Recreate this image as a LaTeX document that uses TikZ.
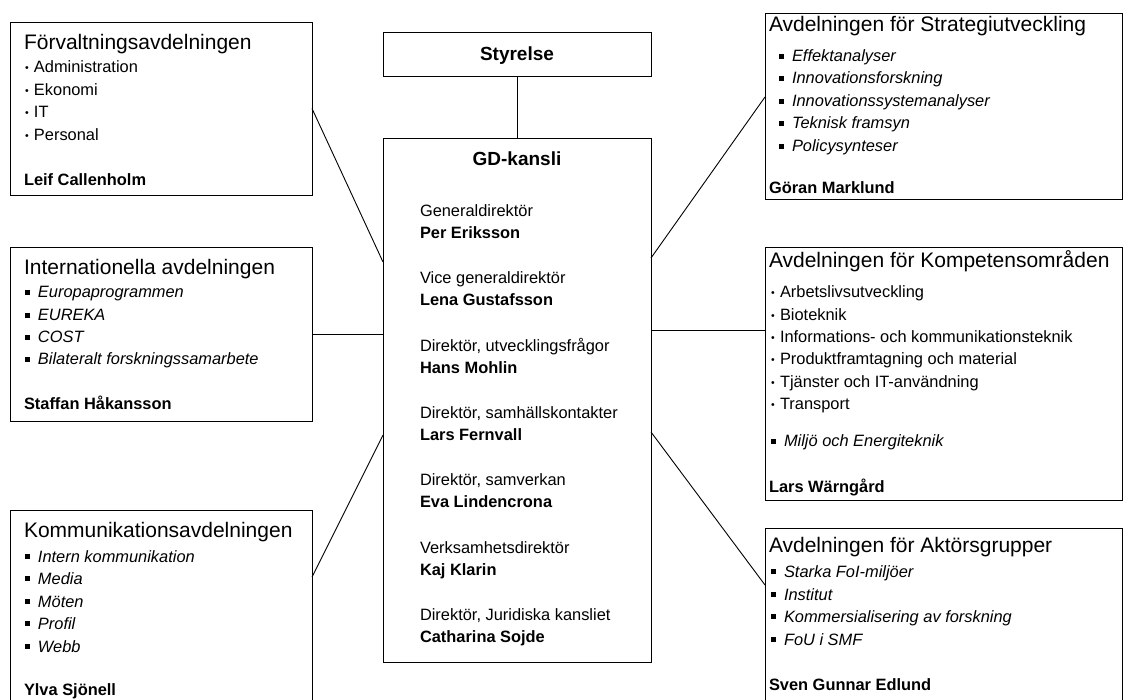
\documentclass[tikz,border=0pt]{standalone}
\usepackage{fontspec}
\setmainfont{Liberation Sans}
\newcommand{\dotb}{\makebox[9pt][l]{\raisebox{1.9pt}{\fontsize{10.5}{10}\selectfont •}}}
\newcommand{\sqb}{\makebox[13pt][l]{\rule[3pt]{4.8pt}{4.8pt}}}
\begin{document}
\begin{tikzpicture}[x=1pt,y=-1pt,
  box/.style={draw=black, line width=0.9pt, anchor=north west, inner sep=0pt, outer sep=0pt},
  txt/.style={anchor=base west, inner sep=0pt, outer sep=0pt, font=\fontsize{16.4}{18}\selectfont},
  itx/.style={txt, font=\fontsize{16.4}{18}\selectfont\itshape},
  ttl/.style={anchor=base west, inner sep=0pt, outer sep=0pt, font=\fontsize{21}{24}\selectfont},
  nm/.style={anchor=base west, inner sep=0pt, outer sep=0pt, font=\bfseries\fontsize{16.4}{18}\selectfont},
  hd/.style={anchor=base, inner sep=0pt, outer sep=0pt, font=\bfseries\fontsize{19}{22}\selectfont},
  conn/.style={draw=black, line width=0.9pt}]
\useasboundingbox (0,0) rectangle (1125,700);
\clip (0,0) rectangle (1125,700);

% boxes
\node[box, minimum width=302pt, minimum height=173pt] (forv) at (10,22) {};
\node[box, minimum width=302pt, minimum height=174pt] (intl) at (10,247) {};
\node[box, minimum width=302pt, minimum height=220pt] (komm) at (10,510) {};
\node[box, minimum width=268pt, minimum height=44pt] (styr) at (383,32) {};
\node[box, minimum width=268pt, minimum height=524pt] (gd) at (383,138) {};
\node[box, minimum width=357pt, minimum height=186pt] (strat) at (765,13) {};
\node[box, minimum width=357pt, minimum height=253pt] (komp) at (765,247) {};
\node[box, minimum width=357pt, minimum height=200pt] (akt) at (765,528) {};

% connector end points on borders
\coordinate (gdW1) at (383,262);
\coordinate (gdW2) at (383,334);
\coordinate (gdW3) at (383,435);
\coordinate (gdE1) at (651,258);
\coordinate (gdE2) at (651,330);
\coordinate (gdE3) at (651,432);
\coordinate (kommE) at (312,577);
\coordinate (stratW) at (765,97);
\coordinate (kompW) at (765,330);
\coordinate (aktW) at (765,585);

\draw[conn] (styr.south) -- (gd.north);
\draw[conn] (forv.east) -- (gdW1);
\draw[conn] (intl.east) -- (gdW2);
\draw[conn] (kommE) -- (gdW3);
\draw[conn] (gdE1) -- (stratW);
\draw[conn] (gdE2) -- (kompW);
\draw[conn] (gdE3) -- (aktW);

% Styrelse / GD
\node[hd] (styrT) at (517,61) {Styrelse};
\node[hd] (gdT) at (517,166) {GD-kansli};
\node[txt] (g1r) at (420,217) {Generaldirektör};
\node[nm]  (g1n) at (420,239) {Per Eriksson};
\node[txt] (g2r) at (420,284) {Vice generaldirektör};
\node[nm]  (g2n) at (420,306) {Lena Gustafsson};
\node[txt] (g3r) at (420,351.5) {Direktör, utvecklingsfrågor};
\node[nm]  (g3n) at (420,373.5) {Hans Mohlin};
\node[txt] (g4r) at (420,418.6) {Direktör, samhällskontakter};
\node[nm]  (g4n) at (420,440.6) {Lars Fernvall};
\node[txt] (g5r) at (420,485.8) {Direktör, samverkan};
\node[nm]  (g5n) at (420,507.8) {Eva Lindencrona};
\node[txt] (g6r) at (420,553) {Verksamhetsdirektör};
\node[nm]  (g6n) at (420,575) {Kaj Klarin};
\node[txt] (g7r) at (420,620.2) {Direktör, Juridiska kansliet};
\node[nm]  (g7n) at (420,642.2) {Catharina Sojde};

% Förvaltning
\node[ttl] (forvT) at (24,50) {Förvaltningsavdelningen};
\node[txt] (forv1) at (25,73) {\dotb Administration};
\node[txt] (forv2) at (25,96) {\dotb Ekonomi};
\node[txt] (forv3) at (25,118) {\dotb IT};
\node[txt] (forv4) at (25,141) {\dotb Personal};
\node[nm] (forvN) at (24,186) {Leif Callenholm};

% Internationella
\node[ttl] (intlT) at (24,275) {Internationella avdelningen};
\node[itx] (intl1) at (25,298) {\sqb Europaprogrammen};
\node[itx] (intl2) at (25,321) {\sqb EUREKA};
\node[itx] (intl3) at (25,343) {\sqb COST};
\node[itx] (intl4) at (25,365) {\sqb Bilateralt forskningssamarbete};
\node[nm] (intlN) at (24,410) {Staffan Håkansson};

% Kommunikation
\node[ttl] (kommT) at (24,537) {Kommunikationsavdelningen};
\node[itx] (komm1) at (25,562) {\sqb Intern kommunikation};
\node[itx] (komm2) at (25,584) {\sqb Media};
\node[itx] (komm3) at (25,607) {\sqb Möten};
\node[itx] (komm4) at (25,629) {\sqb Profil};
\node[itx] (komm5) at (25,652) {\sqb Webb};
\node[nm] (kommN) at (24,695) {Ylva Sjönell};

% Strategiutveckling
\node[ttl] (stratT) at (769,32) {Avdelningen för Strategiutveckling};
\node[itx] (strat1) at (779,62) {\sqb Effektanalyser};
\node[itx] (strat2) at (779,84) {\sqb Innovationsforskning};
\node[itx] (strat3) at (779,107) {\sqb Innovationssystemanalyser};
\node[itx] (strat4) at (779,129) {\sqb Teknisk framsyn};
\node[itx] (strat5) at (779,152) {\sqb Policysynteser};
\node[nm] (stratN) at (769,194) {Göran Marklund};

% Kompetensområden
\node[ttl] (kompT) at (769,268) {Avdelningen för Kompetensområden};
\node[txt] (komp1) at (771,298) {\dotb Arbetslivsutveckling};
\node[txt] (komp2) at (771,321) {\dotb Bioteknik};
\node[txt] (komp3) at (771,343) {\dotb Informations- och kommunikationsteknik};
\node[txt] (komp4) at (771,365) {\dotb Produktframtagning och material};
\node[txt] (komp5) at (771,388) {\dotb Tjänster och IT-användning};
\node[txt] (komp6) at (771,410) {\dotb Transport};
\node[itx] (komp7) at (771,447) {\sqb Miljö och Energiteknik};
\node[nm] (kompN) at (769,493) {Lars Wärngård};

% Aktörsgrupper
\node[ttl] (aktT) at (769,552) {Avdelningen för Aktörsgrupper};
\node[itx] (akt1) at (771,577) {\sqb Starka FoI-miljöer};
\node[itx] (akt2) at (771,600) {\sqb Institut};
\node[itx] (akt3) at (771,622) {\sqb Kommersialisering av forskning};
\node[itx] (akt4) at (771,645) {\sqb FoU i SMF};
\node[nm] (aktN) at (769,690) {Sven Gunnar Edlund};
\end{tikzpicture}
\end{document}
